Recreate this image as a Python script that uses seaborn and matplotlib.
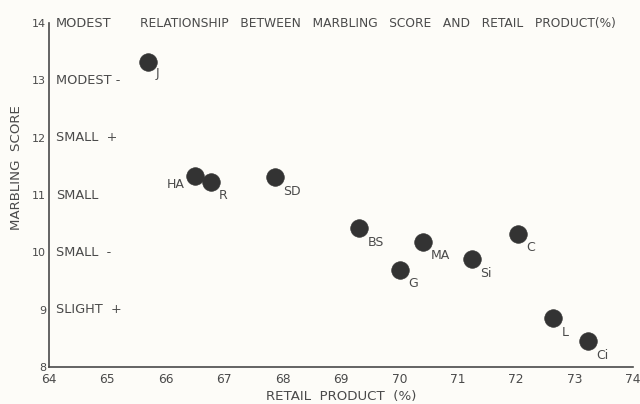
import matplotlib
matplotlib.use("Agg")
import matplotlib.pyplot as plt
import seaborn as sns
import pandas as pd

# ---------------------------
# Data
# ---------------------------
breeds = ["J", "HA", "R", "SD", "BS", "MA", "G", "Si", "C", "L", "Ci"]
retail_product = [65.70, 66.50, 66.77, 67.87, 69.31, 70.40, 70.01, 71.24, 72.03, 72.63, 73.23]
marbling_score = [13.32, 11.33, 11.23, 11.31, 10.42, 10.18, 9.69, 9.88, 10.32, 8.85, 8.45]

x_ticks = [64, 65, 66, 67, 68, 69, 70, 71, 72, 73, 74]
y_ticks = [8, 9, 10, 11, 12, 13, 14]
grade_levels = [9, 10, 11, 12, 13, 14]
grade_names = ["SLIGHT  +", "SMALL  -", "SMALL", "SMALL  +", "MODEST -", "MODEST"]

df = pd.DataFrame({"breed": breeds, "retail": retail_product, "marbling": marbling_score})

# label offsets (points) relative to each dot
label_offset = {"HA": (-20, -6), "J": (5, -8)}
default_offset = (6, -10)

INK = "#4a4a4a"
DOT = "#333333"
PAPER = "#fdfcf8"

sns.set_theme(style="white")
plt.rcParams["font.family"] = ["DejaVu Sans"]

fig = plt.figure(figsize=(6.4, 4.04), dpi=100, facecolor=PAPER)
ax = fig.add_axes([0.0766, 0.0916, 0.9125, 0.8514], facecolor=PAPER)

sns.scatterplot(data=df, x="retail", y="marbling", s=160, color=DOT,
                edgecolor=DOT, linewidth=0.5, ax=ax, legend=False, zorder=3)

for _, row in df.iterrows():
    dx, dy = label_offset.get(row["breed"], default_offset)
    ax.annotate(row["breed"], (row["retail"], row["marbling"]),
                xytext=(dx, dy), textcoords="offset points",
                ha="left", va="center", fontsize=9, color=INK)

for lvl, name in zip(grade_levels, grade_names):
    ax.text(64.12, lvl, name, ha="left", va="center", fontsize=9.3, color=INK)

ax.text(65.55, 14, "RELATIONSHIP   BETWEEN   MARBLING   SCORE   AND   RETAIL   PRODUCT(%)",
        ha="left", va="center", fontsize=8.8, color=INK)

ax.set_xlim(64, 74)
ax.set_ylim(8, 14)
ax.set_xticks(x_ticks)
ax.set_yticks(y_ticks)
ax.tick_params(axis="both", direction="in", length=4, width=1, colors=INK,
               labelcolor=INK)
ax.tick_params(axis="x", pad=4, labelsize=8.8)
ax.tick_params(axis="y", pad=2, labelsize=8)

for side in ["top", "right"]:
    ax.spines[side].set_visible(False)
for side in ["left", "bottom"]:
    ax.spines[side].set_color(INK)
    ax.spines[side].set_linewidth(1.2)

ax.set_xlabel("RETAIL  PRODUCT  (%)", fontsize=9.6, color=INK, labelpad=3)
ax.set_ylabel("MARBLING  SCORE", fontsize=9.6, color=INK)
ax.yaxis.set_label_coords(-0.045, 0.58)

fig.savefig("out.png", dpi=100, facecolor=PAPER)
